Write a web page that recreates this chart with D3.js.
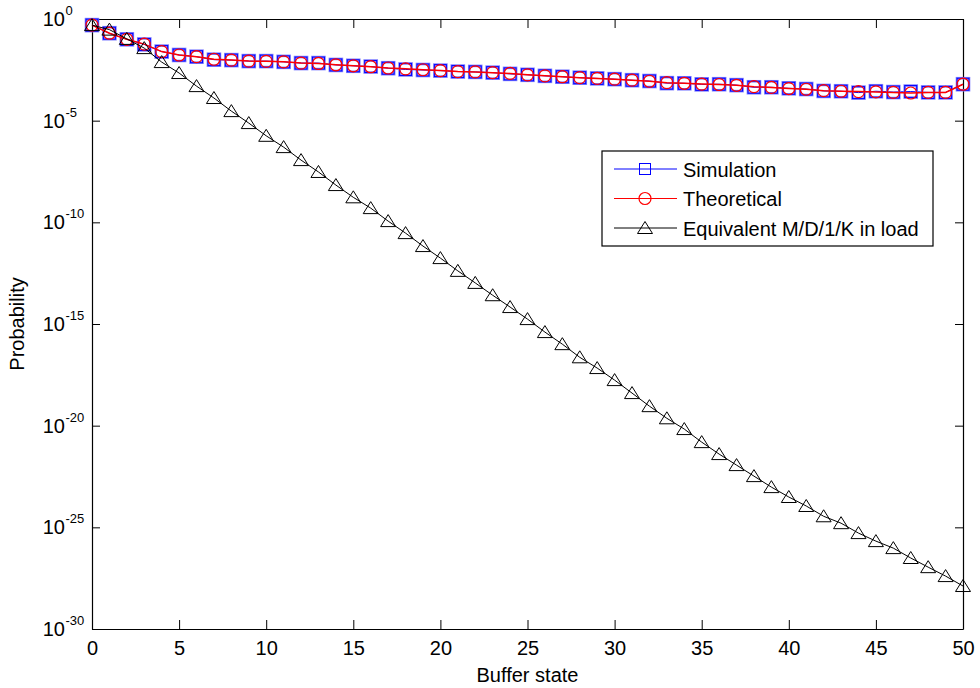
<!DOCTYPE html>
<html>
<head>
<meta charset="utf-8">
<script src="https://cdn.jsdelivr.net/npm/d3@7"></script>
<style>
  html, body { margin: 0; padding: 0; background: #fff; }
  svg { display: block; }
  text { font-family: "Liberation Sans", Arial, sans-serif; fill: #000; }
</style>
</head>
<body>
<svg id="chart" width="980" height="688"></svg>
<script>
// ---------------- data ----------------
const bufferStates = d3.range(0, 51); // 0..50

const simulation = [
  5.0e-1, 2.0e-1, 1.0e-1, 5.6e-2, 2.5e-2, 1.7e-2, 1.4e-2, 1.0e-2, 9.5e-3, 8.5e-3,
  8.5e-3, 7.8e-3, 6.8e-3, 6.8e-3, 5.5e-3, 5.0e-3, 4.6e-3, 3.8e-3, 3.3e-3, 3.1e-3,
  2.9e-3, 2.6e-3, 2.5e-3, 2.3e-3, 2.0e-3, 1.8e-3, 1.6e-3, 1.45e-3, 1.3e-3, 1.2e-3,
  1.1e-3, 9.8e-4, 8.9e-4, 7.0e-4, 6.9e-4, 6.1e-4, 6.2e-4, 5.6e-4, 4.4e-4, 4.4e-4,
  3.9e-4, 3.6e-4, 2.9e-4, 2.8e-4, 2.4e-4, 2.8e-4, 2.55e-4, 2.7e-4, 2.45e-4, 2.45e-4,
  6.2e-4
];

const theoretical = [
  5.0e-1, 2.0e-1, 1.0e-1, 5.8e-2, 2.5e-2, 1.7e-2, 1.4e-2, 1.05e-2, 9.5e-3, 8.5e-3,
  8.3e-3, 7.8e-3, 6.8e-3, 6.5e-3, 5.6e-3, 5.0e-3, 4.5e-3, 3.9e-3, 3.55e-3, 3.2e-3,
  2.9e-3, 2.6e-3, 2.5e-3, 2.3e-3, 2.1e-3, 1.8e-3, 1.6e-3, 1.45e-3, 1.3e-3, 1.2e-3,
  1.1e-3, 9.8e-4, 8.7e-4, 7.4e-4, 6.9e-4, 6.3e-4, 6.0e-4, 5.5e-4, 4.7e-4, 4.3e-4,
  3.8e-4, 3.5e-4, 3.0e-4, 2.8e-4, 2.7e-4, 2.6e-4, 2.45e-4, 2.3e-4, 2.45e-4, 2.45e-4,
  6.2e-4
];

const equivalentMD1K = [
  5.0e-1, 3.0e-1, 1.05e-1, 3.7e-2, 7.6e-3, 2.2e-3, 5.0e-4, 1.3e-4, 2.95e-5, 7.6e-6,
  1.8e-6, 5.0e-7, 1.15e-7, 3.0e-8, 6.8e-9, 1.7e-9, 5.0e-10, 1.15e-10, 2.95e-11, 6.8e-12,
  1.74e-12, 4.1e-13, 1.05e-13, 2.6e-14, 6.8e-15, 1.74e-15, 4.0e-16, 1.02e-16, 2.3e-17, 6.8e-18,
  1.74e-18, 4.0e-19, 9.1e-20, 2.3e-20, 6.8e-21, 1.55e-21, 4.0e-22, 1.15e-22, 3.3e-23, 9.5e-24,
  3.1e-24, 1.12e-24, 3.5e-25, 1.6e-25, 5.2e-26, 2.1e-26, 9.5e-27, 3.1e-27, 1.1e-27, 4.0e-28,
  1.3e-28
];

const xTicks = [0, 5, 10, 15, 20, 25, 30, 35, 40, 45, 50];
const yTickExponents = [0, -5, -10, -15, -20, -25, -30];
const seriesNames = ["Simulation", "Theoretical", "Equivalent M/D/1/K in load"];
const xLabel = "Buffer state";
const yLabel = "Probability";

// ---------------- layout ----------------
const svg = d3.select("#chart");
const L = 92, R = 963, T = 19, B = 629;

const x = d3.scaleLinear().domain([0, 50]).range([L, R]);
const y = d3.scaleLog().domain([1e-30, 1]).range([B, T]);

const FS = 20;

// plot box
svg.append("rect").attr("x", L).attr("y", T).attr("width", R - L).attr("height", B - T)
  .attr("fill", "#fff").attr("stroke", "none");

// axes (inward ticks, MATLAB style box)
const gx = svg.append("g").attr("transform", `translate(0,${B})`)
  .call(d3.axisBottom(x).tickValues(xTicks).tickSizeInner(-9).tickSizeOuter(0).tickPadding(12)
    .tickFormat(d3.format("d")));
gx.selectAll("text").style("font-size", FS + "px");

svg.append("g").attr("transform", `translate(0,${T})`)
  .call(d3.axisTop(x).tickValues(xTicks).tickSizeInner(-9).tickSizeOuter(0).tickFormat(() => ""));

const yTickVals = yTickExponents.map(e => Math.pow(10, e));
svg.append("g").attr("transform", `translate(${L},0)`)
  .call(d3.axisLeft(y).tickValues(yTickVals).tickSizeInner(-8).tickSizeOuter(0).tickFormat(() => ""));
svg.append("g").attr("transform", `translate(${R},0)`)
  .call(d3.axisRight(y).tickValues(yTickVals).tickSizeInner(-8).tickSizeOuter(0).tickFormat(() => ""));

svg.selectAll(".domain").attr("stroke", "#000").attr("stroke-width", 1.2);
svg.selectAll(".tick line").attr("stroke", "#000").attr("stroke-width", 1);

// y tick labels: 10 with superscript exponent
const yl = svg.append("g");
yTickExponents.forEach(e => {
  const yy = y(Math.pow(10, e));
  yl.append("text").attr("x", 65).attr("y", yy + 7).attr("text-anchor", "end")
    .style("font-size", FS + "px").text("10");
  yl.append("text").attr("x", 65.5).attr("y", yy - 4).attr("text-anchor", "start")
    .style("font-size", "13px").text(String(e).replace("-", "-"));
});

// axis labels
svg.append("text").attr("x", (L + R) / 2).attr("y", 682).attr("text-anchor", "middle")
  .style("font-size", FS + "px").text(xLabel);
svg.append("text").attr("transform", `translate(24,${(T + B) / 2}) rotate(-90)`)
  .attr("text-anchor", "middle").style("font-size", FS + "px").text(yLabel);

// ---------------- series ----------------
const plot = svg.append("g");
const lineGen = d3.line().x((d, i) => x(bufferStates[i])).y(d => y(d));

function squareMarker(g, cx, cy) {
  g.append("rect").attr("x", cx - 6).attr("y", cy - 6).attr("width", 12).attr("height", 12)
    .attr("fill", "none").attr("stroke", "#8080ff").attr("stroke-width", 2.6);
  g.append("rect").attr("x", cx - 6).attr("y", cy - 6).attr("width", 12).attr("height", 12)
    .attr("fill", "none").attr("stroke", "#0000ff").attr("stroke-width", 1);
}
function circleMarker(g, cx, cy) {
  g.append("circle").attr("cx", cx).attr("cy", cy).attr("r", 6)
    .attr("fill", "none").attr("stroke", "#ff0000").attr("stroke-width", 1.2);
}
function triMarker(g, cx, cy) {
  g.append("path").attr("d", `M${cx},${cy - 6.5}L${cx + 7.5},${cy + 5.5}L${cx - 7.5},${cy + 5.5}Z`)
    .attr("fill", "none").attr("stroke", "#000").attr("stroke-width", 1);
}

// Simulation
plot.append("path").datum(simulation).attr("d", lineGen)
  .attr("fill", "none").attr("stroke", "#0000ff").attr("stroke-width", 1);
const gs = plot.append("g");
simulation.forEach((v, i) => squareMarker(gs, x(bufferStates[i]), y(v)));

// Theoretical
plot.append("path").datum(theoretical).attr("d", lineGen)
  .attr("fill", "none").attr("stroke", "#ff0000").attr("stroke-width", 1.5);
const gt = plot.append("g");
theoretical.forEach((v, i) => circleMarker(gt, x(bufferStates[i]), y(v)));

// Equivalent M/D/1/K
plot.append("path").datum(equivalentMD1K).attr("d", lineGen)
  .attr("fill", "none").attr("stroke", "#000").attr("stroke-width", 1);
const ge = plot.append("g");
equivalentMD1K.forEach((v, i) => triMarker(ge, x(bufferStates[i]), y(v)));

// ---------------- legend ----------------
const lg = svg.append("g");
lg.append("rect").attr("x", 602).attr("y", 151).attr("width", 331).attr("height", 95)
  .attr("fill", "#fff").attr("stroke", "#000").attr("stroke-width", 1.2);
const rowsY = [169, 198.5, 228];
const colors = ["#0000ff", "#ff0000", "#000"];
const markers = [squareMarker, circleMarker, triMarker];
seriesNames.forEach((name, i) => {
  const ry = rowsY[i];
  lg.append("line").attr("x1", 614).attr("x2", 677).attr("y1", ry).attr("y2", ry)
    .attr("stroke", colors[i]).attr("stroke-width", 1);
  if (i === 0) {
    lg.append("rect").attr("x", 645 - 5.5).attr("y", ry - 5.5).attr("width", 11).attr("height", 11)
      .attr("fill", "none").attr("stroke", "#0000ff").attr("stroke-width", 1);
  } else {
    markers[i](lg, 645, ry);
  }
  lg.append("text").attr("x", 683).attr("y", ry + 7.5).style("font-size", FS + "px").text(name);
});
</script>
</body>
</html>
